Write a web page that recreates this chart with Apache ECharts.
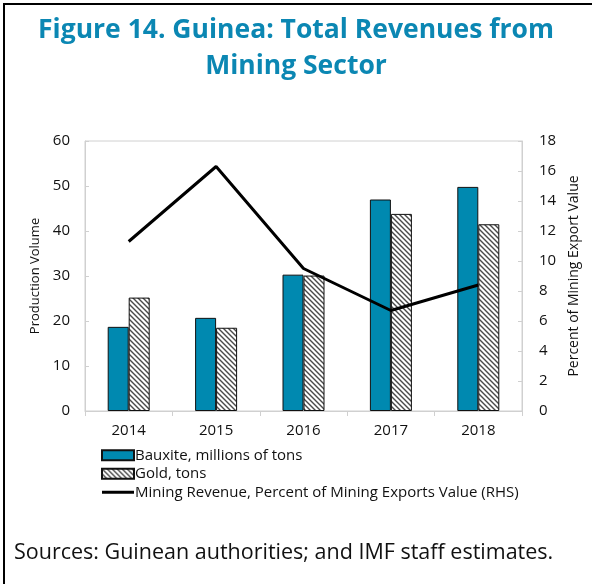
<!DOCTYPE html>
<html>
<head>
<meta charset="utf-8">
<script src="https://cdn.jsdelivr.net/npm/echarts@6/dist/echarts.min.js"></script>
<style>
  html, body { margin: 0; padding: 0; background: #fff; }
  #main { width: 592px; height: 584px; }
</style>
</head>
<body>
<div id="main"></div>
<script>
var years = ['2014', '2015', '2016', '2017', '2018'];
var bauxite = [18.7, 20.7, 30.3, 47.0, 49.8];
var gold = [25.2, 18.5, 30.1, 43.8, 41.5];
var miningRevenue = [11.3, 16.3, 9.5, 6.7, 8.4];

var FONT = '"Open Sans", "Noto Sans", sans-serif';

// diagonal hatch for the gold bars
function hatch() {
  var s = 5;
  var c = document.createElement('canvas');
  c.width = s; c.height = s;
  var ctx = c.getContext('2d');
  ctx.fillStyle = '#fff';
  ctx.fillRect(0, 0, s, s);
  ctx.strokeStyle = '#4a4a4a';
  ctx.lineWidth = 1.4;
  ctx.beginPath();
  ctx.moveTo(-1, -1); ctx.lineTo(s + 1, s + 1);
  ctx.moveTo(-1, s - 1); ctx.lineTo(1, s + 1);
  ctx.moveTo(s - 1, -1); ctx.lineTo(s + 1, 1);
  ctx.stroke();
  return { image: c, repeat: 'repeat' };
}

var chart = echarts.init(document.getElementById('main'));
var option = {
  backgroundColor: '#fff',
  textStyle: { fontFamily: FONT },
  legend: {
    orient: 'vertical',
    left: 96,
    top: 441,
    itemWidth: 32,
    itemHeight: 10,
    itemGap: 0,
    textStyle: { fontFamily: FONT, fontSize: 15, color: '#111', padding: [0, 0, 0, -4], lineHeight: 18.5 },
    data: [
      { name: 'Bauxite, millions of tons', icon: 'rect' },
      { name: 'Gold, tons', icon: 'rect' },
      { name: 'Mining Revenue, Percent of Mining Exports Value (RHS)',
        icon: 'path://M0,0 M0,10 M0,3.5 L32,3.5 L32,6.5 L0,6.5 Z',
        itemStyle: { color: '#000', borderWidth: 0 } }
    ]
  },
  grid: {
    left: 85, right: 70, top: 141, bottom: 173,
    show: true, borderColor: '#d0d0d0', borderWidth: 1, backgroundColor: 'transparent'
  },
  xAxis: {
    type: 'category',
    data: years,
    axisLine: { lineStyle: { color: '#d0d0d0' } },
    axisTick: { show: true, alignWithLabel: false, length: 5, lineStyle: { color: '#d0d0d0' } },
    axisLabel: { color: '#111', fontSize: 15, margin: 12, fontFamily: FONT }
  },
  yAxis: [{
    type: 'value',
    min: 0, max: 60, interval: 10,
    name: 'Production Volume',
    nameLocation: 'middle',
    nameGap: 31,
    nameTextStyle: { fontSize: 13, color: '#111', fontFamily: FONT },
    axisLine: { show: true, lineStyle: { color: '#d0d0d0' } },
    axisTick: { show: true, inside: true, length: 4, lineStyle: { color: '#d0d0d0' } },
    splitLine: { show: false },
    axisLabel: { color: '#111', fontSize: 15, margin: 15, fontFamily: FONT }
  }, {
    type: 'value',
    min: 0, max: 18, interval: 2,
    name: 'Percent of Mining Export Value',
    nameLocation: 'middle',
    nameGap: 43,
    nameTextStyle: { fontSize: 14, color: '#111', fontFamily: FONT },
    axisLine: { show: true, lineStyle: { color: '#d0d0d0' } },
    axisTick: { show: true, inside: true, length: 4, lineStyle: { color: '#d0d0d0' } },
    splitLine: { show: false },
    axisLabel: { color: '#111', fontSize: 15, margin: 17, fontFamily: FONT }
  }],
  series: [{
    name: 'Bauxite, millions of tons',
    type: 'bar',
    data: bauxite,
    barWidth: 21,
    barGap: '0%',
    itemStyle: { color: '#0089b0', borderColor: '#111', borderWidth: 1 }
  }, {
    name: 'Gold, tons',
    type: 'bar',
    data: gold,
    barWidth: 21,
    barGap: '0%',
    itemStyle: { color: hatch(), borderColor: '#111', borderWidth: 1 }
  }, {
    name: 'Mining Revenue, Percent of Mining Exports Value (RHS)',
    type: 'line',
    yAxisIndex: 1,
    data: miningRevenue,
    symbol: 'none',
    lineStyle: { color: '#000', width: 3 },
    itemStyle: { color: '#000' }
  }],
  graphic: [{
    type: 'rect',
    shape: { x: 4, y: 4, width: 640, height: 640 },
    style: { fill: 'none', stroke: '#000', lineWidth: 2 },
    silent: true
  }, {
    type: 'text',
    x: 296,
    y: 12,
    style: {
      text: 'Figure 14. Guinea: Total Revenues from\nMining Sector',
      fontFamily: FONT,
      fontSize: 26.5,
      fontWeight: 'bold',
      fill: '#0b87b3',
      lineHeight: 36,
      align: 'center',
      verticalAlign: 'top'
    }
  }, {
    type: 'text',
    left: 14,
    top: 542,
    style: {
      text: 'Sources: Guinean authorities; and IMF staff estimates.',
      fontFamily: FONT,
      fontSize: 21.5,
      fill: '#111'
    }
  }]
};
chart.setOption(option);
</script>
</body>
</html>
